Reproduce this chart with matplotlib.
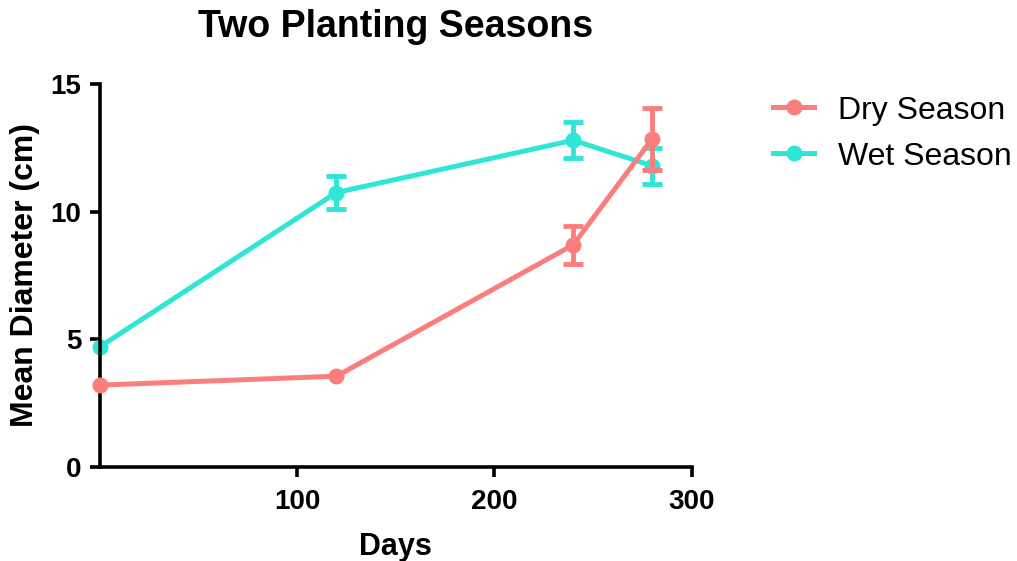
import matplotlib
matplotlib.use("Agg")
import matplotlib.pyplot as plt

# data
days = [0, 120, 240, 280]
dry_mean = [3.2, 3.55, 8.7, 12.85]
dry_err = [0.0, 0.0, 0.75, 1.2]
wet_mean = [4.7, 10.75, 12.8, 11.8]
wet_err = [0.0, 0.65, 0.7, 0.7]

x_ticks = [100, 200, 300]
y_ticks = [0, 5, 10, 15]

dry_color = '#FA7F7C'
wet_color = '#2FE6D6'

plt.rcParams['font.family'] = ['Liberation Sans', 'DejaVu Sans']

fig = plt.figure(figsize=(10.17, 5.61), dpi=100)
ax = fig.add_axes([0.098, 0.168, 0.582, 0.682])

for mean, err, color, name, z in [(dry_mean, dry_err, dry_color, 'Dry Season', 3),
                                  (wet_mean, wet_err, wet_color, 'Wet Season', 2)]:
    ax.plot(days, mean, color=color, lw=3.6, marker='o', markersize=10.5,
            label=name, clip_on=False, zorder=z)
    # only points with a measured spread get error bars
    idx = [i for i, e in enumerate(err) if e > 0]
    ax.errorbar([days[i] for i in idx], [mean[i] for i in idx],
                yerr=[err[i] for i in idx], fmt='none', ecolor=color,
                capsize=7, capthick=3.5, elinewidth=3.5, clip_on=False, zorder=z)

ax.set_xlim(0, 300)
ax.set_ylim(0, 15)
ax.set_xticks(x_ticks)
ax.set_yticks(y_ticks)
for side in ['top', 'right']:
    ax.spines[side].set_visible(False)
for side in ['left', 'bottom']:
    ax.spines[side].set_linewidth(2.6)
ax.tick_params(width=2.6, length=7, labelsize=20)
ax.tick_params(axis='x', pad=9)
ax.tick_params(axis='y', pad=6)
for lab in ax.get_xticklabels() + ax.get_yticklabels():
    lab.set_fontweight('bold')

ax.set_xlabel('Days', fontsize=22, fontweight='bold', labelpad=12)
ax.set_ylabel('Mean Diameter (cm)', fontsize=23, fontweight='bold', labelpad=8)
ax.set_title('Two Planting Seasons', fontsize=27, fontweight='bold', pad=34)

ax.legend(loc='upper left', bbox_to_anchor=(1.105, 1.02), frameon=False,
          fontsize=23, handlelength=1.3, handletextpad=0.75, borderaxespad=0.2,
          labelspacing=0.5)

fig.savefig('out.png', dpi=100)
